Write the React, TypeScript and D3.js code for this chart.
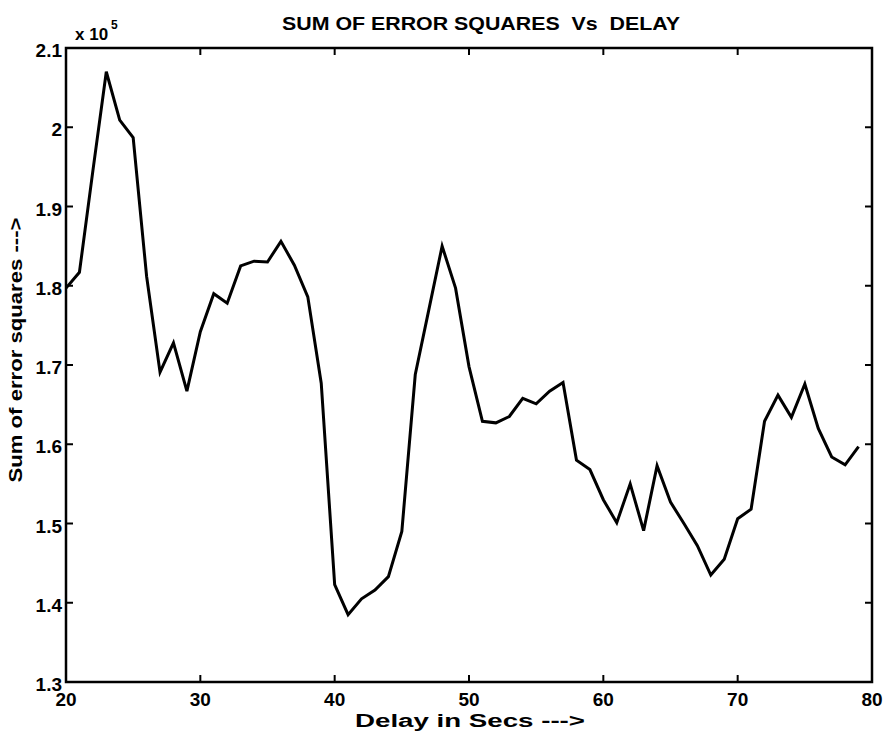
import * as d3 from "d3";

// delay (s) vs sum of error squares (in units of 1e5)
const delays = [
  20, 21, 22, 23, 24, 25, 26, 27, 28, 29,
  30, 31, 32, 33, 34, 35, 36, 37, 38, 39,
  40, 41, 42, 43, 44, 45, 46, 47, 48, 49,
  50, 51, 52, 53, 54, 55, 56, 57, 58, 59,
  60, 61, 62, 63, 64, 65, 66, 67, 68, 69,
  70, 71, 72, 73, 74, 75, 76, 77, 78, 79,
];
const sse = [
  1.797, 1.817, 1.945, 2.07, 2.009, 1.987, 1.812, 1.691, 1.728, 1.667,
  1.742, 1.79, 1.778, 1.825, 1.831, 1.83, 1.856, 1.826, 1.786, 1.677,
  1.423, 1.385, 1.405, 1.416, 1.433, 1.49, 1.688, 1.769, 1.85, 1.797,
  1.698, 1.629, 1.627, 1.635, 1.658, 1.651, 1.667, 1.678, 1.58, 1.568,
  1.53, 1.501, 1.55, 1.491, 1.573, 1.527, 1.5, 1.472, 1.435, 1.455,
  1.506, 1.518, 1.629, 1.662, 1.634, 1.676, 1.62, 1.584, 1.574, 1.597,
];
const xTicks = [20, 30, 40, 50, 60, 70, 80];
const yTicks = [1.3, 1.4, 1.5, 1.6, 1.7, 1.8, 1.9, 2.0, 2.1];
const yTickLabels = ["1.3", "1.4", "1.5", "1.6", "1.7", "1.8", "1.9", "2", "2.1"];

const W = 883;
const H = 738;
const FONT = "'Liberation Sans', Arial, Helvetica, sans-serif";

export default function App() {
  const left = 66, right = 872, top = 48, bottom = 682;
  const x = d3.scaleLinear().domain([20, 80]).range([left, right]);
  const y = d3.scaleLinear().domain([1.3, 2.1]).range([bottom, top]);

  const line = d3
    .line<number>()
    .x((_, i) => x(delays[i]))
    .y((d) => y(d));

  const tick = 7;

  return (
    <svg
      width={W}
      height={H}
      style={{ position: "absolute", left: 0, top: 0, background: "#fff" }}
      fontFamily={FONT}
    >
      {/* data line */}
      <path d={line(sse) ?? ""} fill="none" stroke="#000" strokeWidth={3} strokeLinejoin="miter" />

      {/* box */}
      <rect x={left} y={top} width={right - left} height={bottom - top} fill="none" stroke="#000" strokeWidth={2.5} />

      {/* x ticks (bottom and top, pointing inward) */}
      {xTicks.map((t) => (
        <g key={"x" + t}>
          <line x1={x(t)} x2={x(t)} y1={bottom} y2={bottom - tick} stroke="#000" strokeWidth={2} />
          <line x1={x(t)} x2={x(t)} y1={top} y2={top + tick} stroke="#000" strokeWidth={2} />
          <text x={x(t)} y={706} textAnchor="middle" fontSize={19} fontWeight="bold">
            {t}
          </text>
        </g>
      ))}

      {/* y ticks (left and right, pointing inward) */}
      {yTicks.map((t, i) => (
        <g key={"y" + t}>
          <line x1={left} x2={left + tick} y1={y(t)} y2={y(t)} stroke="#000" strokeWidth={2} />
          <line x1={right} x2={right - tick} y1={y(t)} y2={y(t)} stroke="#000" strokeWidth={2} />
          <text x={left - 4} y={y(t) + 9} textAnchor="end" fontSize={19} fontWeight="bold">
            {yTickLabels[i]}
          </text>
        </g>
      ))}

      {/* exponent */}
      <text x={75} y={40} fontSize={17} fontWeight="bold">
        x 10
      </text>
      <text x={111} y={29} fontSize={12} fontWeight="bold">
        5
      </text>

      {/* title */}
      <text
        x={481}
        y={30}
        textAnchor="middle"
        fontSize={19}
        fontWeight="bold"
        textLength={398}
        lengthAdjust="spacingAndGlyphs"
        style={{ whiteSpace: "pre" }}
      >
        {"SUM OF ERROR SQUARES  Vs  DELAY"}
      </text>

      {/* axis labels */}
      <text x={470} y={727} textAnchor="middle" fontSize={18} fontWeight="bold" textLength={230} lengthAdjust="spacingAndGlyphs">
        Delay in Secs ---&gt;
      </text>
      <text
        transform={`translate(22, 350) rotate(-90)`}
        textAnchor="middle"
        fontSize={18}
        fontWeight="bold"
        textLength={265}
        lengthAdjust="spacingAndGlyphs"
      >
        Sum of error squares ---&gt;
      </text>
    </svg>
  );
}
